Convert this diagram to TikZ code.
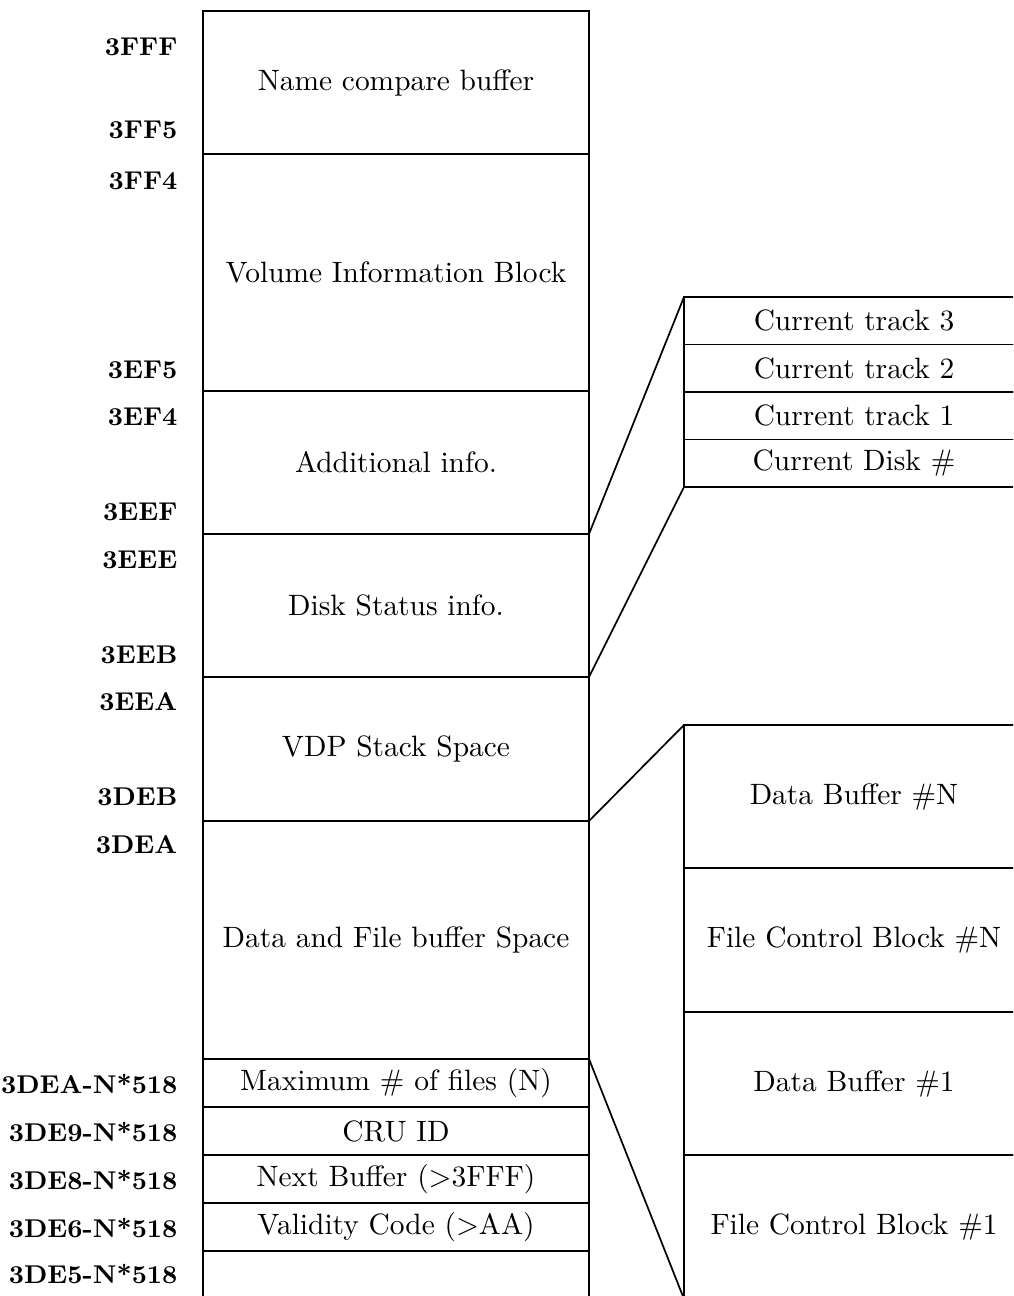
\documentclass[tikz,border=0pt]{standalone}
\usetikzlibrary{positioning}
\tikzset{
  memcell/.style = {rectangle, draw, line width=0.6pt, inner sep=0pt, outer sep=0pt,
                    minimum width=135.1pt, font=\fontsize{10.3}{12}\selectfont},
  subcell/.style = {memcell, minimum width=119pt},
  addrlabel/.style = {anchor=east, inner sep=0pt, font=\fontsize{9}{11}\selectfont\bfseries},
  zoomline/.style = {line width=0.6pt}
}
\begin{document}
\begin{tikzpicture}[x=0.35pt, y=-0.35pt]
\clip (0,0) rectangle (1013,1296);
% main memory column
\node[memcell, minimum height=50.05pt] (ncb) at (396,82.5) {Name compare buffer};
\node[memcell, minimum height=82.95pt, below=0pt of ncb] (vib) {Volume Information Block};
\node[memcell, minimum height=50.05pt, below=0pt of vib] (add) {Additional info.};
\node[memcell, minimum height=50.05pt, below=0pt of add] (dsk) {Disk Status info.};
\node[memcell, minimum height=50.4pt, below=0pt of dsk] (vdp) {VDP Stack Space};
\node[memcell, minimum height=83.3pt, below=0pt of vdp] (dfb) {Data and File buffer Space};
\node[memcell, minimum height=16.8pt, below=0pt of dfb] (max) {Maximum \# of files (N)};
\node[memcell, minimum height=16.8pt, below=0pt of max] (cru) {CRU ID};
\node[memcell, minimum height=16.8pt, below=0pt of cru] (nxt) {Next Buffer (>3FFF)};
\node[memcell, minimum height=16.8pt, below=0pt of nxt] (val) {Validity Code (>AA)};
\node[memcell, minimum height=16.8pt, below=0pt of val] (rest) {};

% disk status detail
\node[subcell, minimum height=16.625pt, anchor=north west] (tr3) at (684,297) {Current track 3};
\node[subcell, minimum height=16.625pt, below=0pt of tr3] (tr2) {Current track 2};
\node[subcell, minimum height=16.625pt, below=0pt of tr2] (tr1) {Current track 1};
\node[subcell, minimum height=16.625pt, below=0pt of tr1] (cdn) {Current Disk \#};

% buffer space detail
\node[subcell, minimum height=50.05pt, anchor=north west] (dbn) at (684,725) {Data Buffer \#N};
\node[subcell, minimum height=50.4pt, below=0pt of dbn] (fcbn) {File Control Block \#N};
\node[subcell, minimum height=50.05pt, below=0pt of fcbn] (db1) {Data Buffer \#1};
\node[subcell, minimum height=50.4pt, below=0pt of db1] (fcb1) {File Control Block \#1};

% addresses
\foreach \addr/\ypos [count=\i] in {3FFF/47, 3FF5/130, 3FF4/181, 3EF5/370, 3EF4/417,
    3EEF/512, 3EEE/560, 3EEB/655, 3EEA/702, 3DEB/797, 3DEA/845,
    3DEA-N*518/1084, 3DE9-N*518/1132, 3DE8-N*518/1180, 3DE6-N*518/1228, 3DE5-N*518/1274}
  \node[addrlabel] (addr\i) at (178,\ypos) {\addr};

\draw[zoomline] (add.south east) -- (tr3.north west);
\draw[zoomline] (dsk.south east) -- (cdn.south west);
\draw[zoomline] (vdp.south east) -- (dbn.north west);
\draw[zoomline] (max.north east) -- (fcb1.south west);
\end{tikzpicture}
\end{document}
